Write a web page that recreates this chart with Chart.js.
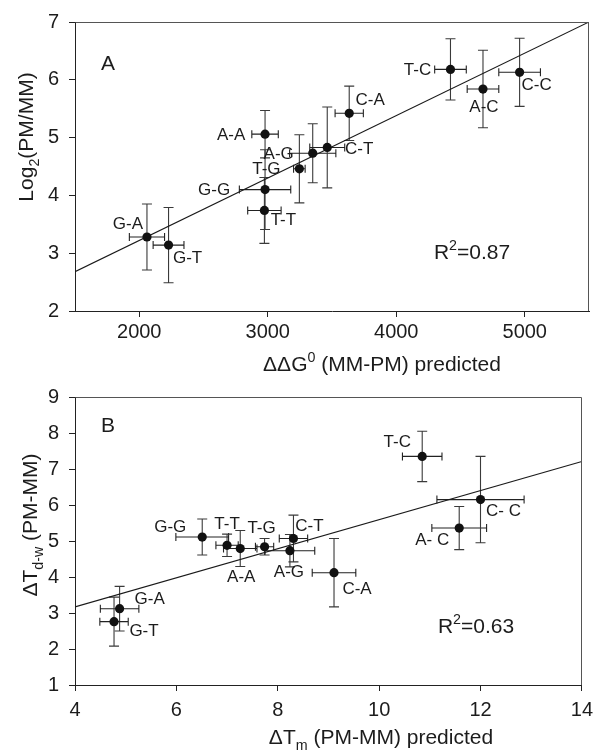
<!DOCTYPE html>
<html><head><meta charset="utf-8">
<script src="https://cdn.jsdelivr.net/npm/chart.js@4.4.0/dist/chart.umd.min.js"></script>
<style>
html,body{margin:0;padding:0;background:#fff;}
#wrap{position:relative;width:600px;height:750px;}
canvas{position:absolute;left:0;}
</style></head><body>
<div id="wrap">
<canvas id="cA" width="600" height="375" style="top:0"></canvas>
<canvas id="cB" width="600" height="375" style="top:375px"></canvas>
</div>
<script>
// ---------- DATA ----------
const pairsA = ['G-A','G-T','A-A','G-G','T-T','T-G','A-G','C-T','C-A','T-C','A-C','C-C'];
const pairsB = ['G-A','G-T','A-A','G-G','T-T','T-G','A-G','C-T','C-A','T-C','A- C','C- C'];

// Panel A: ddG0 (MM-PM) predicted vs log2(PM/MM)
const ddGPredicted = [2060, 2228, 2979, 2979, 2974, 3246, 3350, 3463, 3634, 4422, 4675, 4960];
const ddGError     = [137, 120, 103, 200, 130, 45, 180, 136, 110, 123, 123, 162];
const log2Ratio    = [3.28, 3.14, 5.06, 4.10, 3.74, 4.46, 4.73, 4.83, 5.42, 6.18, 5.84, 6.13];
const log2Error    = [0.57, 0.65, 0.41, 0.69, 0.57, 0.59, 0.51, 0.70, 0.47, 0.53, 0.67, 0.59];
const fitAX = [1500, 5500];
const fitAY = [2.68, 7.0];
const ticksAX = [2000, 3000, 4000, 5000];
const ticksAY = [2, 3, 4, 5, 6, 7];
const r2AValue = '=0.87';

// Panel B: dTm (PM-MM) predicted vs dTd-w (PM-MM)
const dTmPredicted = [4.88, 4.77, 7.26, 6.51, 7.00, 7.74, 8.24, 8.31, 9.11, 10.85, 11.58, 12.00];
const dTmError     = [0.38, 0.28, 0.33, 0.52, 0.22, 0.18, 0.49, 0.28, 0.43, 0.39, 0.54, 0.86];
const dTdw         = [3.12, 2.76, 4.79, 5.11, 4.88, 4.84, 4.73, 5.07, 4.12, 7.35, 5.36, 6.15];
const dTdwError    = [0.62, 0.68, 0.50, 0.50, 0.31, 0.23, 0.45, 0.65, 0.95, 0.70, 0.60, 1.20];
const fitBX = [4, 14];
const fitBY = [3.17, 7.21];
const ticksBX = [4, 6, 8, 10, 12, 14];
const ticksBY = [1, 2, 3, 4, 5, 6, 7, 8, 9];
const r2BValue = '=0.63';

// ---------- LAYOUT (label offsets in px relative to each point) ----------
const labelOffA = [[-19,-14],[19,12],[-34,0],[-51,0],[19,9],[-33,0],[-34,0],[32,1],[21,-14],[-33,0],[1,17],[17,12]];
const labelOffB = [[30,-10],[30,9],[1,28],[-32,-11],[0,-22],[-3,-19],[-1,21],[16,-13],[23,16],[-25,-15],[-27,11],[23,11]];

const FONT = '"Liberation Sans", Arial, Helvetica, sans-serif';
const INK = '#1c1c1c';

function drawRich(ctx, segs, x, y, size) {
  const small = size * 0.68;
  let widths = segs.map(s => {
    ctx.font = (s.m ? small : size) + 'px ' + FONT;
    return ctx.measureText(s.t).width;
  });
  const W = widths.reduce((a, b) => a + b, 0);
  let cx = x - W / 2;
  ctx.textAlign = 'left';
  ctx.textBaseline = 'alphabetic';
  segs.forEach((s, i) => {
    ctx.font = (s.m ? small : size) + 'px ' + FONT;
    let dy = 0;
    if (s.m === 'sub') dy = size * 0.28;
    if (s.m === 'sup') dy = -size * 0.42;
    ctx.fillText(s.t, cx, y + dy);
    cx += widths[i];
  });
}

function errorPlugin(xs, ys, xe, ye) {
  return {
    id: 'errorBars',
    beforeDatasetsDraw(chart) {
      const { ctx } = chart;
      const sx = chart.scales.x, sy = chart.scales.y;
      ctx.save();
      ctx.lineWidth = 1.1;
      for (let i = 0; i < xs.length; i++) {
        const px = sx.getPixelForValue(xs[i]);
        const py = sy.getPixelForValue(ys[i]);
        const y1 = sy.getPixelForValue(ys[i] + ye[i]);
        const y2 = sy.getPixelForValue(ys[i] - ye[i]);
        const x1 = sx.getPixelForValue(xs[i] - xe[i]);
        const x2 = sx.getPixelForValue(xs[i] + xe[i]);
        ctx.strokeStyle = '#3a3a3a';
        ctx.beginPath();
        ctx.moveTo(px, y1); ctx.lineTo(px, y2);
        ctx.moveTo(px - 5, y1); ctx.lineTo(px + 5, y1);
        ctx.moveTo(px - 5, y2); ctx.lineTo(px + 5, y2);
        ctx.stroke();
        ctx.strokeStyle = '#222';
        ctx.beginPath();
        ctx.moveTo(x1, py); ctx.lineTo(x2, py);
        ctx.moveTo(x1, py - 4); ctx.lineTo(x1, py + 4);
        ctx.moveTo(x2, py - 4); ctx.lineTo(x2, py + 4);
        ctx.stroke();
      }
      ctx.restore();
    }
  };
}

function textPlugin(cfg) {
  return {
    id: 'texts',
    afterDraw(chart) {
      const { ctx, chartArea: a } = chart;
      const sx = chart.scales.x, sy = chart.scales.y;
      ctx.save();
      // frame
      ctx.strokeStyle = '#555';
      ctx.lineWidth = 1;
      ctx.beginPath();
      ctx.moveTo(Math.round(a.left) + 0.5, Math.round(a.top) + 0.5);
      ctx.lineTo(Math.round(a.right) - 0.5, Math.round(a.top) + 0.5);
      ctx.lineTo(Math.round(a.right) - 0.5, Math.round(a.bottom));
      ctx.stroke();
      ctx.fillStyle = INK;
      // point labels
      ctx.textAlign = 'center';
      ctx.textBaseline = 'middle';
      ctx.font = '17px ' + FONT;
      cfg.labels.forEach((t, i) => {
        const px = sx.getPixelForValue(cfg.xs[i]) + cfg.off[i][0];
        const py = sy.getPixelForValue(cfg.ys[i]) + cfg.off[i][1];
        ctx.fillText(t, px, py + 1);
      });
      // panel letter
      ctx.font = '21px ' + FONT;
      ctx.textAlign = 'left';
      ctx.textBaseline = 'alphabetic';
      ctx.fillText(cfg.letter, cfg.letterPos[0], cfg.letterPos[1]);
      // R2
      drawRich(ctx, [{t:'R'},{t:'2',m:'sup'},{t:cfg.r2}], cfg.r2Pos[0], cfg.r2Pos[1], 21);
      // x title
      drawRich(ctx, cfg.xTitle, cfg.xTitlePos[0], cfg.xTitlePos[1], 21);
      // y title
      ctx.save();
      ctx.translate(cfg.yTitlePos[0], cfg.yTitlePos[1]);
      ctx.rotate(-Math.PI / 2);
      drawRich(ctx, cfg.yTitle, 0, 0, 21);
      ctx.restore();
      ctx.restore();
    }
  };
}

function axisCommon(ticksList, isX, fitSize, pad) {
  return {
    type: 'linear',
    min: ticksList.min, max: ticksList.max,
    afterBuildTicks: s => { s.ticks = ticksList.vals.map(v => ({ value: v })); },
    afterFit: s => { if (isX) s.height = fitSize; else s.width = fitSize; },
    grid: { drawOnChartArea: false, drawTicks: true, tickLength: 6, color: '#222', lineWidth: 1 },
    border: { display: true, color: '#222', width: 1 },
    ticks: { font: { family: FONT, size: 20 }, color: INK, padding: pad, maxRotation: 0, autoSkip: false,
             callback: v => String(v) }
  };
}

function makeChart(id, o) {
  const pts = o.xs.map((x, i) => ({ x: x, y: o.ys[i] }));
  const fit = o.fx.map((x, i) => ({ x: x, y: o.fy[i] }));
  return new Chart(document.getElementById(id), {
    type: 'scatter',
    data: {
      datasets: [
        { type: 'line', data: fit, borderColor: '#1a1a1a', borderWidth: 1.1, pointRadius: 0, fill: false, order: 2 },
        { type: 'scatter', data: pts, backgroundColor: '#111', borderColor: '#111', pointRadius: 4.6, borderWidth: 0, order: 1 }
      ]
    },
    options: {
      responsive: false, animation: false, devicePixelRatio: 1,
      layout: { padding: o.padding },
      plugins: { legend: { display: false }, tooltip: { enabled: false } },
      scales: {
        x: axisCommon({ min: o.xmin, max: o.xmax, vals: o.tx }, true, o.xH, o.xPad),
        y: axisCommon({ min: o.ymin, max: o.ymax, vals: o.ty }, false, 75, 10)
      }
    },
    plugins: [errorPlugin(o.xs, o.ys, o.xe, o.ye), textPlugin(o.text)]
  });
}

makeChart('cA', {
  xs: ddGPredicted, ys: log2Ratio, xe: ddGError, ye: log2Error,
  fx: fitAX, fy: fitAY, tx: ticksAX, ty: ticksAY,
  xmin: 1500, xmax: 5500, ymin: 2, ymax: 7,
  padding: { top: 21, right: 11, bottom: 0, left: 0 }, xH: 64, xPad: 3,
  text: {
    labels: pairsA, xs: ddGPredicted, ys: log2Ratio, off: labelOffA,
    letter: 'A', letterPos: [101, 70],
    r2: r2AValue, r2Pos: [472, 259],
    xTitle: [{t:'\u0394\u0394G'},{t:'0',m:'sup'},{t:' (MM-PM) predicted'}], xTitlePos: [382, 371],
    yTitle: [{t:'Log'},{t:'2',m:'sub'},{t:'(PM/MM)'}], yTitlePos: [33, 137]
  }
});

makeChart('cB', {
  xs: dTmPredicted, ys: dTdw, xe: dTmError, ye: dTdwError,
  fx: fitBX, fy: fitBY, tx: ticksBX, ty: ticksBY,
  xmin: 4, xmax: 14, ymin: 1, ymax: 9,
  padding: { top: 15, right: 14, bottom: 0, left: 0 }, xH: 65, xPad: 7,
  text: {
    labels: pairsB, xs: dTmPredicted, ys: dTdw, off: labelOffB,
    letter: 'B', letterPos: [101, 57],
    r2: r2BValue, r2Pos: [476, 258],
    xTitle: [{t:'\u0394T'},{t:'m',m:'sub'},{t:' (PM-MM) predicted'}], xTitlePos: [381, 369],
    yTitle: [{t:'\u0394T'},{t:'d-w',m:'sub'},{t:' (PM-MM)'}], yTitlePos: [37, 150]
  }
});
</script>
</body></html>
